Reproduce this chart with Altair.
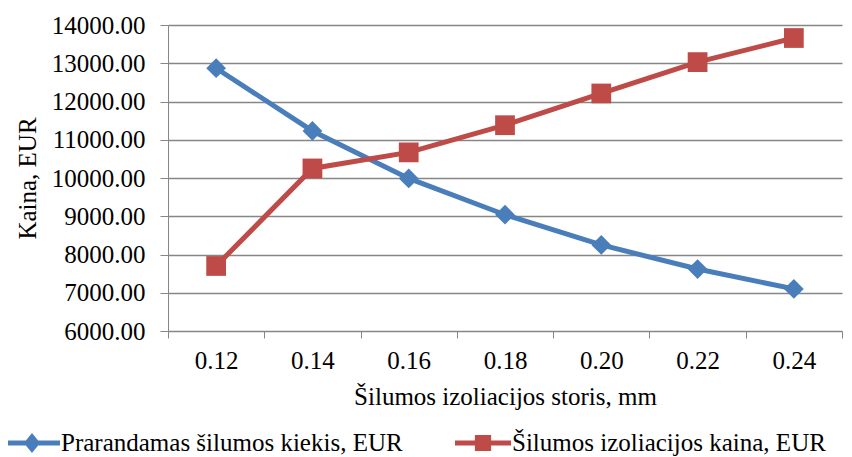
import altair as alt
import pandas as pd

thickness = ["0.12", "0.14", "0.16", "0.18", "0.20", "0.22", "0.24"]
heat_loss = [12870, 11230, 9990, 9040, 8250, 7620, 7100]
insul_cost = [7700, 10250, 10670, 11380, 12210, 13030, 13660]
s1_name = "Prarandamas šilumos kiekis, EUR"
s2_name = "Šilumos izoliacijos kaina, EUR"
y_ticks = [6000, 7000, 8000, 9000, 10000, 11000, 12000, 13000, 14000]

df1 = pd.DataFrame({"x": thickness, "v": heat_loss, "series": s1_name})
df2 = pd.DataFrame({"x": thickness, "v": insul_cost, "series": s2_name})

FONT = "Liberation Serif"
FS = 25
GRID = "#868686"
BLUE = "#4A7EBB"
RED = "#BE4B48"

x_enc = alt.X(
    "x:O",
    sort=thickness,
    scale=alt.Scale(type="band", paddingInner=0, paddingOuter=0),
    axis=alt.Axis(
        title="Šilumos izoliacijos storis, mm",
        tickBand="extent",
        labelAngle=0,
        grid=False,
        domainColor=GRID,
        tickColor=GRID,
        tickSize=7,
        labelPadding=10,
        labelFont=FONT,
        titleFont=FONT,
        labelFontSize=FS,
        titleFontSize=FS,
        titlePadding=11,
        labelColor="black",
        titleColor="black",
        titleFontWeight="normal",
    ),
)
y_enc = alt.Y(
    "v:Q",
    scale=alt.Scale(domain=[6000, 14000], nice=False, zero=False),
    axis=alt.Axis(
        title="Kaina, EUR",
        values=y_ticks,
        format=".2f",
        grid=True,
        gridColor=GRID,
        gridWidth=1.3,
        gridOpacity=1,
        domainColor=GRID,
        tickColor=GRID,
        tickSize=8,
        labelPadding=15,
        labelFont=FONT,
        titleFont=FONT,
        labelFontSize=FS,
        titleFontSize=FS,
        titlePadding=11,
        labelColor="black",
        titleColor="black",
        titleFontWeight="normal",
    ),
)

diamond_path = "M-1,-0.09L1,-0.09L1,0.09L-1,0.09Z M0,-0.36L0.29,0L0,0.36L-0.29,0Z"
square_path = "M-1,-0.09L1,-0.09L1,0.09L-1,0.09Z M-0.29,-0.29L0.29,-0.29L0.29,0.29L-0.29,0.29Z"


def series_layer(df, color, shape, path, lx):
    line = alt.Chart(df).mark_line(color=color, strokeWidth=5).encode(x=x_enc, y=y_enc)
    pts = alt.Chart(df).mark_point(filled=True, shape=shape, size=390, opacity=1).encode(
        x=x_enc,
        y=y_enc,
        color=alt.Color(
            "series:N",
            scale=alt.Scale(range=[color]),
            legend=alt.Legend(
                title=None,
                orient="none",
                legendX=lx,
                legendY=390,
                symbolType=path,
                symbolSize=3136,
                symbolStrokeWidth=0,
                labelFont=FONT,
                labelFontSize=FS,
                labelColor="black",
                labelOffset=1,
                padding=0,
                labelLimit=500,
            ),
        ),
    )
    return alt.layer(line, pts)


chart = (
    alt.layer(
        series_layer(df1, BLUE, "diamond", diamond_path, -164),
        series_layer(df2, RED, "square", square_path, 287),
    )
    .resolve_scale(color="independent")
    .properties(
        width=674,
        height=306,
        autosize=alt.AutoSizeParams(type="none"),
        padding={"left": 160, "top": 17, "right": 2, "bottom": 126},
    )
    .configure_view(stroke=None)
)

chart.save("out.html", embed_options={"renderer": "svg", "actions": False})
